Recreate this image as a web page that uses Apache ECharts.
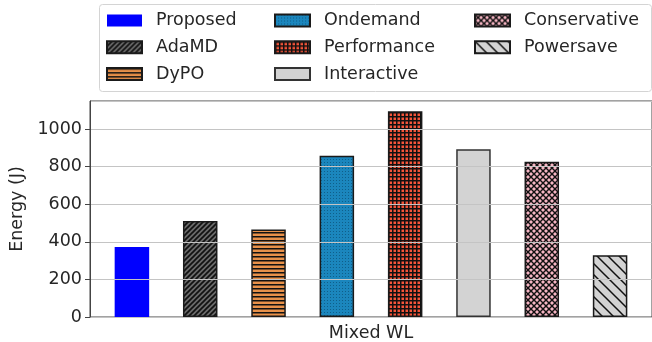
<!DOCTYPE html>
<html>
<head>
<meta charset="utf-8">
<script src="https://cdn.jsdelivr.net/npm/echarts@6/dist/echarts.min.js"></script>
<style>
  html, body { margin: 0; padding: 0; background: #ffffff; }
  #chart { width: 652px; height: 342px; }
</style>
</head>
<body>
<div id="chart"></div>
<script>
// Workload on the x axis
const categories = ['Mixed WL'];
// Governors / methods compared
const methods = ['Proposed', 'AdaMD', 'DyPO', 'Ondemand', 'Performance', 'Interactive', 'Conservative', 'Powersave'];
// Energy consumed (J) for each method
const energy = [373, 511, 466, 858, 1095, 893, 826, 329];
// Y axis range and tick step
const yMin = 0;
const yMax = 1150;
const yStep = 200;

const FONT = 'DejaVu Sans';
const FS = 17.5;

// Small tiled canvases used as hatch fills
function tile(w, h, bg, draw) {
  const c = document.createElement('canvas');
  c.width = w; c.height = h;
  const g = c.getContext('2d');
  g.fillStyle = bg;
  g.fillRect(0, 0, w, h);
  g.strokeStyle = '#111';
  g.fillStyle = '#111';
  draw(g, w, h);
  return { image: c, repeat: 'repeat' };
}
function fwdDiag(s, lw) { // '/'
  return function (g) {
    g.lineWidth = lw;
    for (let k = 0; k <= 2; k++) {
      g.beginPath();
      g.moveTo(k * s + s, -s);
      g.lineTo(k * s - 2 * s, 2 * s);
      g.stroke();
    }
  };
}
function backDiag(s, lw) { // '\'
  return function (g) {
    g.lineWidth = lw;
    for (let k = -1; k <= 1; k++) {
      g.beginPath();
      g.moveTo(k * s - s, -s);
      g.lineTo(k * s + 2 * s, 2 * s);
      g.stroke();
    }
  };
}

const fills = [
  '#0000ff',
  tile(5, 5, '#6a6a6a', fwdDiag(5, 1.7)),
  tile(4, 4, '#e8914a', function (g, w) { g.fillRect(0, 0, w, 1.5); }),
  tile(3, 3, '#1b86bd', function (g) { g.fillStyle = '#0f5f8a'; g.fillRect(0, 0, 1, 1); }),
  tile(4, 4, '#f4553a', function (g, w, h) { g.fillRect(0, 0, w, 1.5); g.fillRect(0, 0, 1.5, h); }),
  '#d3d3d3',
  tile(6, 6, '#f6b5c3', function (g, w, h) { fwdDiag(6, 1.4)(g); backDiag(6, 1.4)(g); }),
  tile(11, 11, '#d3d3d3', backDiag(11, 1.5))
];

const series = methods.map(function (name, i) {
  return {
    name: name,
    type: 'bar',
    data: [energy[i]],
    barWidth: 34.5,
    barGap: '98%',
    itemStyle: {
      color: fills[i],
      borderColor: i === 0 ? '#0000ff' : (i === 5 ? '#333' : '#1a1a1a'),
      borderWidth: i === 0 ? 0 : 1.5
    }
  };
});

function legendColumn(names, left) {
  return {
    data: names,
    orient: 'vertical',
    left: left,
    top: 11.5,
    padding: 0,
    itemWidth: 35,
    itemHeight: 12,
    itemGap: 8.8,
    icon: 'rect',
    selectedMode: false,
    textStyle: { fontFamily: FONT, fontSize: FS, color: '#262626', lineHeight: FS, padding: [0, 0, 0, 9] }
  };
}

const chart = echarts.init(document.getElementById('chart'), null, { renderer: 'canvas' });
chart.setOption({
  animation: false,
  backgroundColor: '#ffffff',
  legend: [
    legendColumn(methods.slice(0, 3), 106),
    legendColumn(methods.slice(3, 6), 274),
    legendColumn(methods.slice(6, 8), 474)
  ],
  graphic: [{
    type: 'rect',
    shape: { x: 99.5, y: 4.5, width: 552, height: 87, r: 3 },
    style: { fill: 'none', stroke: '#d4d4d4', lineWidth: 1 },
    silent: true
  }],
  grid: {
    left: 90, top: 101, right: -2, bottom: 25,
    show: true, borderColor: '#444', borderWidth: 1, backgroundColor: 'transparent'
  },
  xAxis: {
    type: 'category',
    data: categories,
    axisLine: { lineStyle: { color: '#444', width: 1 } },
    axisTick: { show: false },
    axisLabel: { fontFamily: FONT, fontSize: FS, color: '#262626', margin: 7 }
  },
  yAxis: {
    type: 'value',
    min: yMin,
    max: yMax,
    interval: yStep,
    z: 3,
    name: 'Energy (J)',
    nameLocation: 'middle',
    nameGap: 60,
    nameTextStyle: { fontFamily: FONT, fontSize: FS, color: '#262626' },
    axisLine: { show: true, lineStyle: { color: '#444', width: 1 } },
    axisTick: { show: true, length: 5, lineStyle: { color: '#444' } },
    axisLabel: {
      fontFamily: FONT, fontSize: FS, color: '#262626', margin: 8, showMaxLabel: false,
      formatter: function (v) { return String(v); }
    },
    splitLine: { show: true, lineStyle: { color: '#c4c4c4', width: 1 } }
  },
  series: series
});
</script>
</body>
</html>
